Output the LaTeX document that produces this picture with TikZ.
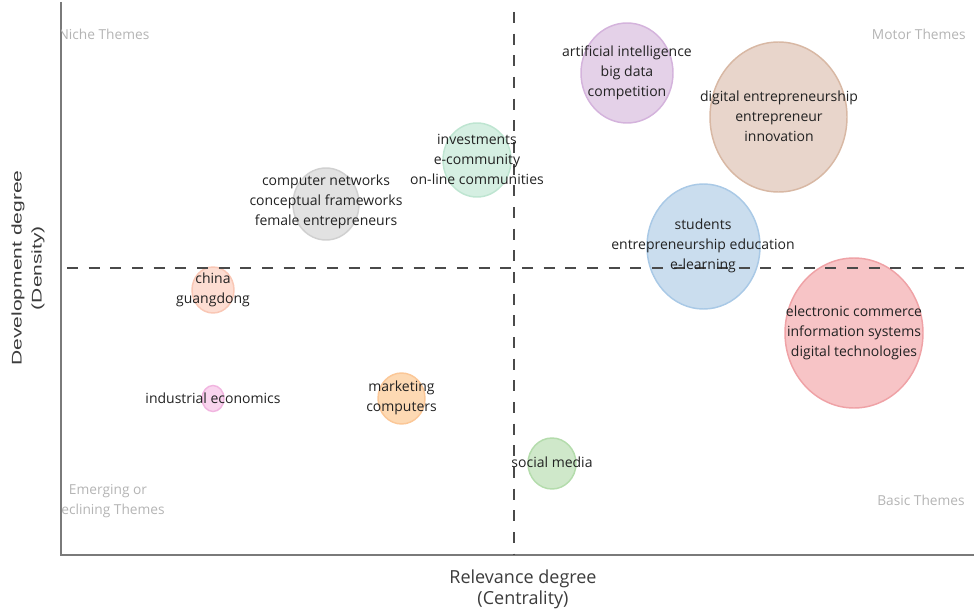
\documentclass[tikz,border=0pt]{standalone}
\usepackage{fontspec}
\setmainfont{Open Sans}
\newfontfamily\axisfont{Liberation Sans}
\usepackage{xcolor}

\definecolor{inkgray}{HTML}{222222}
\definecolor{quadgray}{HTML}{B4B4B4}
\definecolor{axisgray}{HTML}{7A7A7A}
\definecolor{dashgray}{HTML}{4A4A4A}
\definecolor{labelgray}{HTML}{3C3C3C}
% bubble colours: fill / rim
\definecolor{aiFill}{HTML}{E4D1E8}      \definecolor{aiRim}{HTML}{D4B3DC}
\definecolor{digFill}{HTML}{E8D5CB}     \definecolor{digRim}{HTML}{D8B8A4}
\definecolor{invFill}{HTML}{D5EFE2}     \definecolor{invRim}{HTML}{BEE5D1}
\definecolor{netFill}{HTML}{E2E2E2}     \definecolor{netRim}{HTML}{D0D0D0}
\definecolor{chnFill}{HTML}{FDDDD2}     \definecolor{chnRim}{HTML}{F9C7B5}
\definecolor{stuFill}{HTML}{CADDEE}     \definecolor{stuRim}{HTML}{A9C9E6}
\definecolor{ecoFill}{HTML}{F7C4C6}     \definecolor{ecoRim}{HTML}{EFA2A6}
\definecolor{indFill}{HTML}{F9D5EE}     \definecolor{indRim}{HTML}{F1B5E0}
\definecolor{mktFill}{HTML}{FDD9B3}     \definecolor{mktRim}{HTML}{FBC797}
\definecolor{socFill}{HTML}{CFE8CA}     \definecolor{socRim}{HTML}{B4DCAC}

\tikzset{
  bubble/.style={line width=1.1pt},
  theme/.style={font=\fontsize{10.5}{15}\selectfont, text=inkgray, align=center, inner sep=0.75pt},
  quadrant/.style={font=\fontsize{10.3}{15}\selectfont, text=quadgray, align=center, inner sep=0.75pt},
  axisline/.style={draw=axisgray, line width=1.2pt},
  splitline/.style={draw=dashgray, line width=1.5pt, dash pattern=on 8.25pt off 8pt},
}

\begin{document}
\begin{tikzpicture}[x=0.75pt,y=0.75pt,yscale=-1,xscale=1]
    \path[use as bounding box] (0,0) rectangle (974,613);

    %Shape: Ellipse [bubbles]
    \draw [bubble, fill=aiFill, draw=aiRim]   (627,73)    ellipse [x radius=46,   y radius=50];
    \draw [bubble, fill=digFill, draw=digRim] (778.5,117) ellipse [x radius=68.5, y radius=75];
    \draw [bubble, fill=invFill, draw=invRim] (477,160)   ellipse [x radius=34,   y radius=37];
    \draw [bubble, fill=netFill, draw=netRim] (326,204)   ellipse [x radius=33,   y radius=36];
    \draw [bubble, fill=chnFill, draw=chnRim] (213,290)   ellipse [x radius=21,   y radius=23];
    \draw [bubble, fill=stuFill, draw=stuRim] (703.5,246.5) ellipse [x radius=56.5, y radius=62.5];
    \draw [bubble, fill=ecoFill, draw=ecoRim] (854,333)   ellipse [x radius=69,   y radius=75];
    \draw [bubble, fill=indFill, draw=indRim] (213,398.5) ellipse [x radius=11,   y radius=13];
    \draw [bubble, fill=mktFill, draw=mktRim] (401.5,398.5) ellipse [x radius=23.5, y radius=25.5];
    \draw [bubble, fill=socFill, draw=socRim] (552,463.5) ellipse [x radius=24,   y radius=25.5];

    %Straight Lines [axes]
    \coordinate (axtop) at (61,2);
    \coordinate (axorig) at (61,555);
    \coordinate (axright) at (974,555);
    \draw [axisline] (axtop) -- (axorig) -- (axright);

    %Dashed Lines [quadrant split]
    \coordinate (vtop) at (514,12);
    \coordinate (vbot) at (514,555);
    \coordinate (hleft) at (67,268);
    \coordinate (hright) at (964,268);
    \draw [splitline] (vtop) -- (vbot);
    \draw [splitline] (hleft) -- (hright);

    % Text Node
    \draw (627,72.5) node [theme] (ai) {artificial intelligence\\big data\\competition};
    % Text Node
    \draw (779,116) node [theme] (dig) {digital entrepreneurship\\entrepreneur\\innovation};
    % Text Node
    \draw (477,159) node [theme] (inv) {investments\\e-community\\on-line communities};
    % Text Node
    \draw (326,202) node [theme] (net) {computer networks\\conceptual frameworks\\female entrepreneurs};
    % Text Node
    \draw (213,289.5) node [theme] (chn) {china\\guangdong};
    % Text Node
    \draw (703,246) node [theme] (stu) {students\\entrepreneurship education\\e-learning};
    % Text Node
    \draw (854,333) node [theme] (eco) {electronic commerce\\information systems\\digital technologies};
    % Text Node
    \draw (213,398) node [theme] (ind) {industrial economics};
    % Text Node
    \draw (401.5,397.5) node [theme] (mkt) {marketing\\computers};
    % Text Node
    \draw (552,462) node [theme] (soc) {social media};

    % Quadrant labels (clipped by the plot frame)
    \begin{scope}
      \clip (61,0) rectangle (974,555);
      \draw (104,34) node [quadrant] (niche) {Niche Themes};
      \draw (967,34) node [quadrant, anchor=east] (motor) {Motor Themes};
      \draw (108,501.5) node [quadrant] (emerging) {Emerging or\\Declining Themes};
      \draw (966,500.5) node [quadrant, anchor=east] (basic) {Basic Themes};
    \end{scope}

    % Text Node
    \draw (523,589.5) node [font=\fontsize{13.5}{16}\selectfont, text=labelgray, align=center, inner sep=0.75pt] (xlab) {Relevance degree\\(Centrality)};
    % Text Node
    \draw (28,268) node [rotate=90, font=\axisfont\fontsize{10.5}{15}\selectfont, text=labelgray, align=center, inner sep=0.75pt] (ylab) {\scalebox{1.5}[1]{Development degree}\\\scalebox{1.5}[1]{(Density)}};

\end{tikzpicture}
\end{document}
